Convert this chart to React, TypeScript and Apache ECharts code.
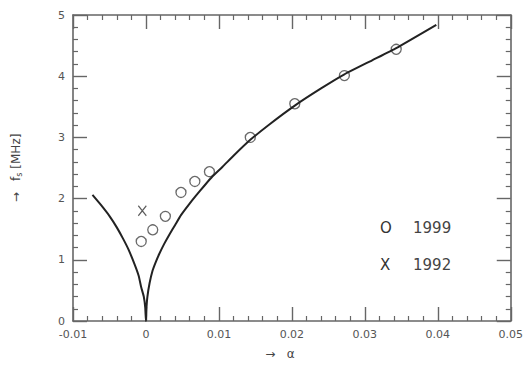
import React, { useEffect, useRef } from "react";
import * as echarts from "echarts";

// Measured points (alpha, f_s in MHz)
const circleAlpha = [-0.00065, 0.00093, 0.00266, 0.0048, 0.0067, 0.0087, 0.0143, 0.0204, 0.0272, 0.0343];
const circleFreq = [1.3, 1.49, 1.71, 2.1, 2.28, 2.44, 3.0, 3.55, 4.01, 4.44];
const crossAlpha = [-0.0005];
const crossFreq = [1.8];

// Theory curve, left branch
const leftAlpha = [-0.00733, -0.0062, -0.00497, -0.004, -0.00316, -0.0024, -0.00157, -0.001, -0.00065, -0.0003, -0.0001, 0];
const leftFreq = [2.06, 1.9, 1.71, 1.53, 1.35, 1.17, 0.93, 0.74, 0.55, 0.4, 0.22, 0];
// Theory curve, right branch
const rightAlpha = [0.00005, 0.0002, 0.0005, 0.0009, 0.0013, 0.0018, 0.0025, 0.0032, 0.004, 0.0048, 0.0058, 0.0068, 0.008, 0.0091, 0.0105, 0.012, 0.0143, 0.017, 0.0204, 0.024, 0.0272, 0.031, 0.0343, 0.0398];
const rightFreq = [0.18, 0.4, 0.62, 0.82, 0.95, 1.09, 1.26, 1.41, 1.57, 1.73, 1.89, 2.04, 2.21, 2.36, 2.52, 2.7, 2.96, 3.22, 3.52, 3.8, 4.03, 4.26, 4.46, 4.84];

const legendLabels = ["1999", "1992"];
const legendMarks = ["O", "X"];

const zip = (a: number[], b: number[]) => a.map((v, i) => [v, b[i]]);

const FONT = "DejaVu Sans";
const AXIS = "#666";

function buildOption(): any {
  const tickCommon = {
    axisLine: { show: true, onZero: false, lineStyle: { color: AXIS, width: 1.6 } },
    axisTick: { show: true, inside: true, length: 14, lineStyle: { color: AXIS, width: 1.4 } },
    minorTick: { show: true, splitNumber: 5, length: 5, lineStyle: { color: AXIS, width: 1.2 } },
    splitLine: { show: false },
    minorSplitLine: { show: false },
  };
  const xCommon = { type: "value", min: -0.01, max: 0.05, interval: 0.01, ...tickCommon };
  const yCommon = { type: "value", min: 0, max: 5, interval: 1, ...tickCommon };
  return {
    animation: false,
    title: { text: " ", left: 0, top: 0, textStyle: { fontSize: 2 } },
    backgroundColor: "#fff",
    grid: { left: 73, right: 13, top: 15, bottom: 37 },
    xAxis: [
      {
        ...xCommon,
        position: "bottom",
        axisLabel: {
          show: true,
          color: "#555",
          fontSize: 11,
          fontFamily: FONT,
          formatter: (x: number) => (Math.abs(x) < 1e-9 ? "0" : x.toFixed(2)),
        },
        name: "→   α",
        nameLocation: "middle",
        nameGap: 27,
        nameTextStyle: { color: "#444", fontFamily: FONT, fontSize: 12, padding: [0, 24, 0, 0] },
      },
      { ...xCommon, position: "top", axisLabel: { show: false } },
    ],
    yAxis: [
      {
        ...yCommon,
        position: "left",
        axisLabel: { show: true, color: "#555", fontSize: 11, fontFamily: FONT },
        name: "→   {f|f}{s|s} [MHz]",
        nameLocation: "middle",
        nameGap: 50,
        nameRotate: 90,
        nameTextStyle: {
          color: "#444",
          fontFamily: FONT,
          fontSize: 12,
          rich: {
            f: { fontSize: 12 },
            s: { fontSize: 8, verticalAlign: "bottom", padding: [6, 0, 0, 0] },
          },
        },
      },
      { ...yCommon, position: "right", axisLabel: { show: false } },
    ],
    series: [
      {
        type: "line",
        data: zip(leftAlpha.concat(rightAlpha), leftFreq.concat(rightFreq)),
        smooth: 0.15,
        symbol: "none",
        lineStyle: { color: "#222", width: 2 },
      },
      {
        type: "scatter",
        data: zip(circleAlpha, circleFreq),
        symbol: "circle",
        symbolSize: 10,
        itemStyle: { color: "rgba(0,0,0,0)", borderColor: "#444", borderWidth: 1.3 },
      },
      {
        type: "scatter",
        data: zip(crossAlpha, crossFreq),
        symbol: "path://M0,0L10,12M10,0L0,12",
        symbolSize: [8, 10],
        itemStyle: { color: "none", borderColor: "#333", borderWidth: 1.3 },
      },
    ],
    graphic: [
      { type: "text", x: 380, y: 220, style: { text: legendMarks[0], font: `15px "${FONT}"`, fill: "#333" } },
      { type: "text", x: 413, y: 220, style: { text: legendLabels[0], font: `15px "${FONT}"`, fill: "#444" } },
      { type: "text", x: 380, y: 257, style: { text: legendMarks[1], font: `15px "${FONT}"`, fill: "#333" } },
      { type: "text", x: 413, y: 257, style: { text: legendLabels[1], font: `15px "${FONT}"`, fill: "#444" } },
    ],
  };
}

function Chart() {
  const ref = useRef<HTMLDivElement>(null);
  useEffect(() => {
    if (!ref.current) return;
    const chart = echarts.init(ref.current, undefined, { renderer: "svg" });
    chart.setOption(buildOption());
    return () => chart.dispose();
  }, []);
  return <div ref={ref} style={{ width: 526, height: 365 }} />;
}

export default function App() {
  return (
    <div style={{ position: "absolute", left: 0, top: 0, width: 526, display: "flex", flexWrap: "wrap" }}>
      <Chart />
    </div>
  );
}
